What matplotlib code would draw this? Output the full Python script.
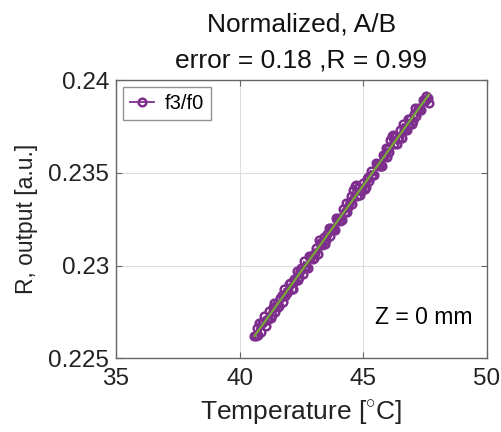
import numpy as np
import matplotlib
matplotlib.use('Agg')
import matplotlib.pyplot as plt

plt.rcParams['font.family'] = ['Liberation Sans', 'DejaVu Sans']
plt.rcParams['mathtext.fontset'] = 'custom'
plt.rcParams['mathtext.rm'] = 'Liberation Sans'

# temperature [C] and normalized output (two interleaved sweeps)
temp_a = [40.6, 40.7, 40.8, 40.9, 41.0, 41.1, 41.2, 41.3, 41.4, 41.5, 41.6, 41.7, 41.8, 41.9,
          42.0, 42.1, 42.2, 42.3, 42.4, 42.5, 42.6, 42.7, 42.8, 42.9, 43.0, 43.1, 43.2, 43.3,
          43.4, 43.5, 43.6, 43.7, 43.8, 43.9, 44.0, 44.1, 44.2, 44.3, 44.4, 44.5, 44.6, 44.7,
          44.8, 44.9, 45.0, 45.1, 45.2, 45.3, 45.4, 45.5, 45.6, 45.7, 45.8, 45.9, 46.0, 46.1,
          46.2, 46.3, 46.4, 46.5, 46.6, 46.7, 46.8, 46.9, 47.0, 47.1, 47.2, 47.3, 47.4, 47.5, 47.6]
r_a = [0.22618, 0.22661, 0.22690, 0.22688, 0.22725, 0.22707, 0.22755, 0.22732, 0.22795, 0.22794,
       0.22782, 0.22841, 0.22874, 0.22851, 0.22899, 0.22872, 0.22926, 0.22969, 0.22940, 0.22985,
       0.23022, 0.23000, 0.23049, 0.23049, 0.23040, 0.23094, 0.23138, 0.23115, 0.23155, 0.23136,
       0.23201, 0.23201, 0.23195, 0.23258, 0.23258, 0.23245, 0.23303, 0.23336, 0.23314, 0.23378,
       0.23406, 0.23435, 0.23418, 0.23402, 0.23447, 0.23425, 0.23478, 0.23512, 0.23491, 0.23555,
       0.23550, 0.23538, 0.23599, 0.23635, 0.23630, 0.23678, 0.23707, 0.23700, 0.23681, 0.23730,
       0.23765, 0.23731, 0.23789, 0.23792, 0.23780, 0.23848, 0.23849, 0.23845, 0.23894, 0.23889,
       0.23903]

temp_b = [40.65, 40.75, 40.85, 40.95, 41.05, 41.15, 41.25, 41.35, 41.45, 41.55, 41.65, 41.75,
          41.85, 41.95, 42.05, 42.15, 42.25, 42.35, 42.45, 42.55, 42.65, 42.75, 42.85, 42.95,
          43.05, 43.15, 43.25, 43.35, 43.45, 43.55, 43.65, 43.75, 43.85, 43.95, 44.05, 44.15,
          44.25, 44.35, 44.45, 44.55, 44.65, 44.75, 44.85, 44.95, 45.05, 45.15, 45.25, 45.35,
          45.45, 45.55, 45.65, 45.75, 45.85, 45.95, 46.05, 46.15, 46.25, 46.35, 46.45, 46.55,
          46.65, 46.75, 46.85, 46.95, 47.05, 47.15, 47.25, 47.35, 47.45, 47.55, 47.65]
r_b = [0.22617, 0.22626, 0.22639, 0.22696, 0.22671, 0.22712, 0.22715, 0.22776, 0.22748, 0.22778,
       0.22827, 0.22805, 0.22836, 0.22864, 0.22903, 0.22875, 0.22914, 0.22924, 0.22970, 0.22955,
       0.22986, 0.22988, 0.23043, 0.23033, 0.23065, 0.23064, 0.23120, 0.23111, 0.23115, 0.23172,
       0.23160, 0.23192, 0.23193, 0.23247, 0.23240, 0.23246, 0.23289, 0.23291, 0.23344, 0.23330,
       0.23431, 0.23374, 0.23380, 0.23416, 0.23412, 0.23468, 0.23457, 0.23488, 0.23488, 0.23545,
       0.23535, 0.23540, 0.23586, 0.23585, 0.23615, 0.23702, 0.23656, 0.23656, 0.23691, 0.23689,
       0.23744, 0.23734, 0.23765, 0.23765, 0.23816, 0.23810, 0.23841, 0.23841, 0.23894, 0.23916,
       0.23879]

temp = np.array(temp_a + temp_b)
r_out = np.array(r_a + r_b)
order = np.argsort(temp)
temp = temp[order]
r_out = r_out[order]

purple = '#7E2F8E'
green = '#77AC30'

fig = plt.figure(figsize=(5.02, 4.32), dpi=100)
ax = fig.add_axes([0.231, 0.171, 0.739, 0.643])

ax.plot(temp, r_out, '-o', color=purple, lw=1.3, ms=5.5, mfc='none', mew=1.8, label='f3/f0')

# linear fit
p = np.polyfit(temp, r_out, 1)
tt = np.array([temp.min(), temp.max()])
ax.plot(tt, np.polyval(p, tt), color=green, lw=1.5)

ax.set_xlim(35, 50)
ax.set_ylim(0.225, 0.24)
ax.set_xticks([35, 40, 45, 50])
ax.set_yticks([0.225, 0.23, 0.235, 0.24])
ax.set_yticklabels(['0.225', '0.23', '0.235', '0.24'])
ax.grid(True, color='#dddddd', lw=0.8)
ax.set_axisbelow(True)
for s in ax.spines.values():
    s.set_color('#666666')
    s.set_linewidth(1.0)
ax.tick_params(direction='in', length=4, color='#666666', labelsize=17.5, labelcolor='#222222',
               top=True, right=True, pad=5)
ax.tick_params(axis='x', pad=7)

ax.set_xlabel(r'Temperature [$^{\circ}$C]', fontsize=19, color='#222222', labelpad=6)
ax.set_ylabel('R, output [a.u.]', fontsize=16.5, color='#222222', labelpad=7)
ax.set_title('Normalized, A/B\nerror = 0.18 ,R = 0.99', fontsize=19, color='#111111',
             linespacing=1.6, pad=9.5)

ax.text(0.96, 0.145, 'Z = 0 mm', transform=ax.transAxes, ha='right', va='center', fontsize=16.5)

leg = ax.legend(loc='upper left', fontsize=14.5, handlelength=1.2, borderpad=0.35,
                handletextpad=0.5, borderaxespad=0.35, fancybox=False)
leg.get_frame().set_edgecolor('#777777')
leg.get_frame().set_linewidth(1.0)

fig.savefig('out.png', dpi=100)
